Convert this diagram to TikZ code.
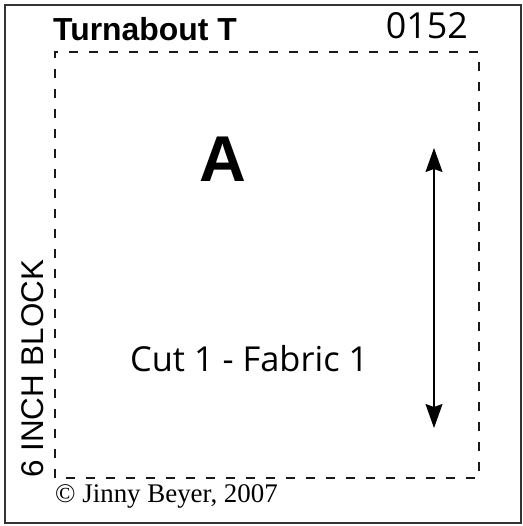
\documentclass[tikz,border=0pt]{standalone}
\usepackage{fontspec}
\setmainfont{Liberation Serif}
\newfontfamily\titlefont{Liberation Sans}
\newfontfamily\labelfont{Open Sans}
\usetikzlibrary{arrows.meta}

\begin{document}
\begin{tikzpicture}[x=1bp,y=1bp,
    border/.style={draw=black!80, line width=2bp},
    seam/.style={draw=black!90, line width=2.8bp, dash pattern=on 9bp off 11bp},
    grain/.style={line width=1.3bp,
      {Stealth[length=24bp,width=17bp,inset=3bp]}-{Stealth[length=24bp,width=17bp,inset=3bp]}},
    txt/.style={inner sep=0pt}]
  \useasboundingbox (0,0) rectangle (523,526);
  \draw[border] (5,3) rectangle (521,521);
  \draw[seam] (55,48) rectangle (479,474);
  \draw
    (53,485) node[txt, anchor=base west, font=\titlefont\bfseries\fontsize{32}{32}\selectfont] (title) {Turnabout T}
    (468,487) node[txt, anchor=base east, font=\labelfont\fontsize{36}{36}\selectfont] (code) {0152}
    (223,344) node[txt, anchor=base, font=\titlefont\bfseries\fontsize{65}{65}\selectfont] (piece) {A}
    (130,154) node[txt, anchor=base west, font=\labelfont\fontsize{34.5}{34.5}\selectfont] (cut) {Cut 1 - Fabric 1}
    (43,48) node[txt, anchor=base west, rotate=90, font=\titlefont\fontsize{31.5}{31.5}\selectfont] (size) {6 INCH BLOCK}
    (55,23) node[txt, anchor=base west, font=\fontsize{27}{27}\selectfont] (copy) {© Jinny Beyer, 2007};
  \coordinate (top) at (434,378);
  \coordinate (bottom) at (434,98);
  \begin{scope}[grain]
    \draw (top) to (bottom);
  \end{scope}
\end{tikzpicture}
\end{document}
